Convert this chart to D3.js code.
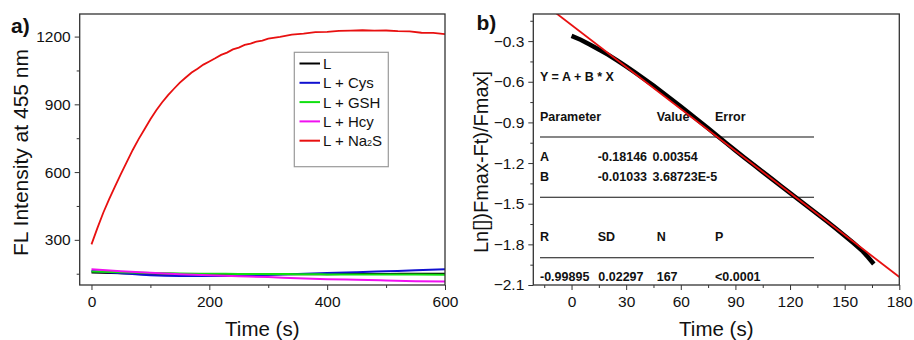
<!doctype html>
<html>
<head>
<meta charset="utf-8">
<script src="https://d3js.org/d3.v7.min.js"></script>
<style>
  body { margin: 0; background: #fff; font-family: "Liberation Sans", Arial, sans-serif; }
  svg text { fill: #111; }
  .tbl text { font-weight: bold; font-size: 12.5px; }
</style>
</head>
<body>
<svg id="chart" width="914" height="340"></svg>
<script>
// panel a: time (s) and FL intensity at 455 nm
var tA = [0, 10, 20, 30, 40, 50, 60, 70, 80, 90, 100, 110, 120, 130, 140, 150, 160, 170, 180, 190,
          200, 210, 220, 230, 240, 250, 260, 270, 280, 290, 300, 320, 340, 360, 380, 400, 420, 440,
          460, 480, 500, 520, 540, 560, 580, 600];
var na2s = [280, 352, 420, 480, 537, 592, 645, 698, 746, 790, 834, 874, 909, 941, 969, 996, 1019, 1041, 1058, 1076,
            1090, 1104, 1119, 1129, 1143, 1151, 1163, 1169, 1178, 1182, 1191, 1199, 1209, 1213, 1220, 1221, 1225, 1226,
            1228, 1226, 1227, 1224, 1223, 1217, 1216, 1211];
var tLow = [0, 50, 100, 150, 200, 250, 300, 350, 400, 450, 500, 550, 600];
var lOnly = [155, 152, 150, 149, 148, 147, 147, 148, 148, 149, 149, 150, 150];
var cys   = [162, 152, 143, 140, 140, 142, 145, 149, 153, 157, 161, 165, 170];
var gsh   = [160, 156, 153, 151, 150, 149, 149, 148, 147, 147, 146, 146, 145];
var hcy   = [170, 161, 154, 148, 143, 139, 135, 130, 126, 123, 120, 117, 115];

var seriesNames = ["L", "L + Cys", "L + GSH", "L + Hcy", "L + Na2S"];
var seriesColors = ["#000000", "#1010d0", "#10e010", "#f010f0", "#e81010"];

// panel b: ln plot with linear fit
var tB = [0, 5, 10, 15, 20, 25, 30, 35, 40, 45, 50, 55, 60, 65, 70, 75, 80, 85, 90, 95,
          100, 105, 110, 115, 120, 125, 130, 135, 140, 145, 150, 155, 160, 163, 166];
var lnB = [-0.262, -0.290, -0.325, -0.362, -0.400, -0.443, -0.487, -0.533, -0.580, -0.629, -0.679, -0.731, -0.783, -0.836, -0.889, -0.943, -0.998, -1.053, -1.108, -1.161,
           -1.213, -1.265, -1.317, -1.369, -1.421, -1.473, -1.524, -1.576, -1.628, -1.681, -1.736, -1.792, -1.852, -1.897, -1.945];
var fitA = -0.18146, fitB = -0.01033;

var svg = d3.select("#chart");

function frameAxes(g, x, y, xTicks, xMinor, yTicks, yMinor, yFmt) {
  var xr = x.range(), yr = y.range();
  g.append("g")
    .attr("transform", "translate(0," + yr[0] + ")")
    .call(d3.axisBottom(x).tickValues(xMinor).tickSize(3).tickFormat(""))
    .call(function(s) { s.select(".domain").remove(); });
  g.append("g")
    .attr("transform", "translate(" + xr[0] + ",0)")
    .call(d3.axisLeft(y).tickValues(yMinor).tickSize(3).tickFormat(""))
    .call(function(s) { s.select(".domain").remove(); });
  g.append("g")
    .attr("transform", "translate(0," + yr[0] + ")")
    .call(d3.axisBottom(x).tickValues(xTicks).tickSize(5).tickPadding(6))
    .call(function(s) {
      s.select(".domain").remove();
      s.selectAll("text").style("font-size", "15.5px").attr("fill", "#111");
    });
  g.append("g")
    .attr("transform", "translate(" + xr[0] + ",0)")
    .call(d3.axisLeft(y).tickValues(yTicks).tickSize(5).tickPadding(4).tickFormat(yFmt))
    .call(function(s) {
      s.select(".domain").remove();
      s.selectAll("text").style("font-size", "15.5px").attr("fill", "#111");
    });
  g.selectAll(".tick line").attr("stroke", "#333");
  g.append("rect")
    .attr("x", xr[0]).attr("y", yr[1])
    .attr("width", xr[1] - xr[0]).attr("height", yr[0] - yr[1])
    .attr("fill", "none").attr("stroke", "#333").attr("stroke-width", 1.3);
}

// ---------- panel a ----------
var xA = d3.scaleLinear().domain([-20, 600]).range([79.7, 445]);
var yA = d3.scaleLinear().domain([100, 1300]).range([285, 14]);
var gA = svg.append("g");

var lowSets = [lOnly, cys, gsh, hcy];
lowSets.forEach(function(vals, i) {
  gA.append("path")
    .datum(tLow.map(function(t, j) { return [t, vals[j]]; }))
    .attr("fill", "none")
    .attr("stroke", seriesColors[i])
    .attr("stroke-width", 2)
    .attr("d", d3.line().curve(d3.curveMonotoneX)
      .x(function(d) { return xA(d[0]); })
      .y(function(d) { return yA(d[1]); }));
});
gA.append("path")
  .datum(tA.map(function(t, j) { return [t, na2s[j]]; }))
  .attr("fill", "none")
  .attr("stroke", seriesColors[4])
  .attr("stroke-width", 1.8)
  .attr("d", d3.line()
    .x(function(d) { return xA(d[0]); })
    .y(function(d) { return yA(d[1]); }));

frameAxes(gA, xA, yA, [0, 200, 400, 600], [100, 300, 500],
  [300, 600, 900, 1200], [150, 450, 750, 1050], d3.format("d"));

// legend
var leg = gA.append("g");
leg.append("rect").attr("x", 294.3).attr("y", 52.3).attr("width", 94).attr("height", 114.4)
  .attr("fill", "#fff").attr("stroke", "#999").attr("stroke-width", 1.2);
seriesNames.forEach(function(name, i) {
  var yy = 63.5 + i * 19.3;
  leg.append("line").attr("x1", 299.5).attr("x2", 320).attr("y1", yy).attr("y2", yy)
    .attr("stroke", seriesColors[i]).attr("stroke-width", 2);
  var t = leg.append("text").attr("x", 323).attr("y", yy + 5.5).style("font-size", "15px");
  if (name === "L + Na2S") {
    t.append("tspan").text("L + Na");
    t.append("tspan").text("2").style("font-size", "9px");
    t.append("tspan").text("S");
  } else {
    t.text(name);
  }
});

gA.append("text").attr("x", 262.3).attr("y", 336).attr("text-anchor", "middle")
  .style("font-size", "20.5px").text("Time (s)");
gA.append("text").attr("transform", "translate(28,152.5) rotate(-90)").attr("text-anchor", "middle")
  .style("font-size", "21px").text("FL Intensity at 455 nm");
gA.append("text").attr("x", 11).attr("y", 33).style("font-size", "21px").style("font-weight", "bold").text("a)");

// ---------- panel b ----------
var xB = d3.scaleLinear().domain([-21, 180]).range([533.3, 899.3]);
var yB = d3.scaleLinear().domain([-2.1, -0.1]).range([285, 14]);
var gB = svg.append("g");

svg.append("clipPath").attr("id", "clipB").append("rect")
  .attr("x", 533.3).attr("y", 14).attr("width", 366).attr("height", 271);

// fit table
var tbl = gB.append("g").attr("class", "tbl");
var rows = [
  [["Y = A + B * X", 540]],
  [["Parameter", 540], ["Value", 656.7], ["Error", 715]],
  [["A", 540], ["-0.18146", 597.7], ["0.00354", 652.5]],
  [["B", 540], ["-0.01033", 597.7], ["3.68723E-5", 652.5]],
  [["R", 540], ["SD", 597.7], ["N", 656.7], ["P", 715]],
  [["-0.99895", 540], ["0.02297", 598.3], ["167", 656.7], ["<0.0001", 715]]
];
var rowY = [81, 121, 161, 180.5, 241, 281];
rows.forEach(function(r, i) {
  r.forEach(function(c) {
    tbl.append("text").attr("x", c[1]).attr("y", rowY[i]).text(c[0]);
  });
});
[137, 197.3, 257.7].forEach(function(yy) {
  tbl.append("line").attr("x1", 540).attr("x2", 814).attr("y1", yy).attr("y2", yy)
    .attr("stroke", "#111").attr("stroke-width", 1.1);
});

// data trace
gB.append("path")
  .datum(tB.map(function(t, j) { return [t, lnB[j]]; }))
  .attr("fill", "none")
  .attr("stroke", "#000")
  .attr("stroke-width", 4.5)
  .attr("d", d3.line()
    .x(function(d) { return xB(d[0]); })
    .y(function(d) { return yB(d[1]); }));

// linear fit
gB.append("line")
  .attr("clip-path", "url(#clipB)")
  .attr("x1", xB(-21)).attr("y1", yB(fitA + fitB * -21))
  .attr("x2", xB(180)).attr("y2", yB(fitA + fitB * 180))
  .attr("stroke", "#e81010").attr("stroke-width", 1.8);

frameAxes(gB, xB, yB, [0, 30, 60, 90, 120, 150, 180], [-15, 15, 45, 75, 105, 135, 165],
  [-2.1, -1.8, -1.5, -1.2, -0.9, -0.6, -0.3], [-1.95, -1.65, -1.35, -1.05, -0.75, -0.45, -0.15], d3.format(".1f"));

gB.append("text").attr("x", 716.3).attr("y", 336).attr("text-anchor", "middle")
  .style("font-size", "20.5px").text("Time (s)");
gB.append("text").attr("transform", "translate(488,162) rotate(-90)").attr("text-anchor", "middle")
  .style("font-size", "20px").text("Ln[])Fmax-Ft)/Fmax]");
gB.append("text").attr("x", 476.5).attr("y", 30).style("font-size", "21px").style("font-weight", "bold").text("b)");
</script>
</body>
</html>
